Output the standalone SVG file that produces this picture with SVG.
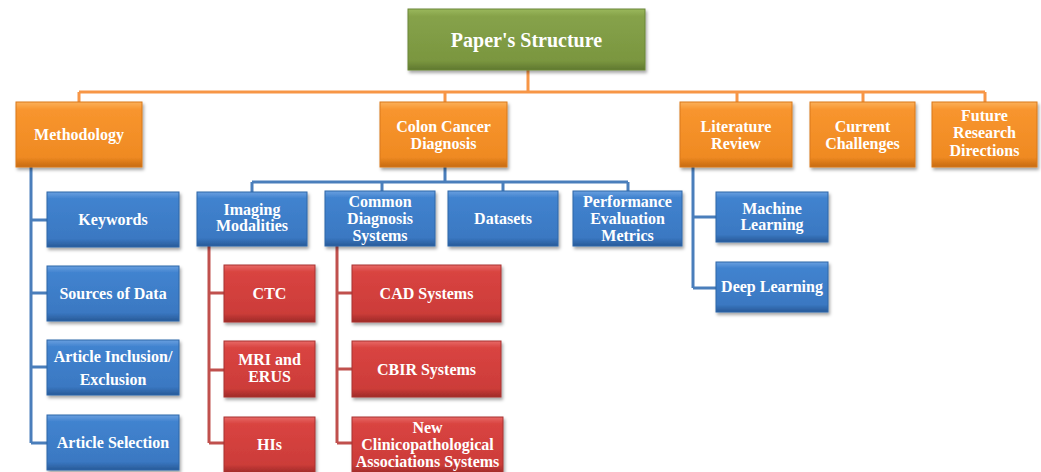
<svg xmlns="http://www.w3.org/2000/svg" width="1041" height="472" viewBox="0 0 1041 472">
<defs>
<linearGradient id="gG" x1="0" y1="0" x2="0" y2="1"><stop offset="0" stop-color="#9ab85c"/><stop offset="0.12" stop-color="#86a24a"/><stop offset="0.85" stop-color="#7a963f"/><stop offset="1" stop-color="#5f7830"/></linearGradient>
<linearGradient id="gO" x1="0" y1="0" x2="0" y2="1"><stop offset="0" stop-color="#fbb05a"/><stop offset="0.12" stop-color="#f8952e"/><stop offset="0.85" stop-color="#ef8a22"/><stop offset="1" stop-color="#c66a12"/></linearGradient>
<linearGradient id="gB" x1="0" y1="0" x2="0" y2="1"><stop offset="0" stop-color="#6aa0e0"/><stop offset="0.12" stop-color="#4183cf"/><stop offset="0.85" stop-color="#3a78c2"/><stop offset="1" stop-color="#285a98"/></linearGradient>
<linearGradient id="gR" x1="0" y1="0" x2="0" y2="1"><stop offset="0" stop-color="#e86a66"/><stop offset="0.12" stop-color="#d94441"/><stop offset="0.85" stop-color="#cc3c39"/><stop offset="1" stop-color="#9e2a28"/></linearGradient>
<filter id="sh" x="-10%" y="-10%" width="125%" height="135%"><feDropShadow dx="1.5" dy="2.5" stdDeviation="1.5" flood-color="#000" flood-opacity="0.35"/></filter>
</defs>
<style>
.n rect{filter:url(#sh)}
.g rect{fill:url(#gG);stroke:#6b8636;stroke-width:1}
.o rect{fill:url(#gO);stroke:#d9781c;stroke-width:1}
.b rect{fill:url(#gB);stroke:#2f66a8;stroke-width:1}
.r rect{fill:url(#gR);stroke:#a83330;stroke-width:1}
text{font-family:"Liberation Serif","Times New Roman",serif;font-weight:bold;fill:#fff;text-anchor:middle;font-size:16px}
.t{font-size:20px}
.lo{stroke:#f79646;stroke-width:3;fill:none}
.lb{stroke:#4a7ebb;stroke-width:3;fill:none}
.lr{stroke:#c0504d;stroke-width:3;fill:none}
</style>
<g id="connectors">
<path class="lo" d="M528 70V92M79 92H985M79 92V102M445 92V102M737 92V102M863 92V102M985 92V102"/>
<path class="lb" d="M445 167V182M252 182H628M252 182V192M382 182V192M503 182V192M628 182V192"/>
<path class="lb" d="M31 167V443M31 220H47M31 293H47M31 367H47M31 443H47"/>
<path class="lb" d="M693 167V288M693 217H716M693 288H716"/>
<path class="lr" d="M209 246V443M209 293H224M209 370H224M209 443H224"/>
<path class="lr" d="M337 246V443M337 293H352M337 369H352M337 443H352"/>
</g>
<g id="root" class="n g"><rect x="408" y="9" width="237" height="61"/><text class="t" x="526.5" y="46.5">Paper's Structure</text></g>
<g id="methodology" class="n o"><rect x="16" y="102" width="126" height="65"/><text x="79" y="140">Methodology</text></g>
<g id="colon" class="n o"><rect x="380" y="102" width="127" height="65"/><text x="443.5" y="132">Colon Cancer</text><text x="443.5" y="149">Diagnosis</text></g>
<g id="literature" class="n o"><rect x="680" y="102" width="112" height="65"/><text x="736" y="132">Literature</text><text x="736" y="149">Review</text></g>
<g id="challenges" class="n o"><rect x="810" y="102" width="105" height="65"/><text x="862.5" y="132">Current</text><text x="862.5" y="149">Challenges</text></g>
<g id="future" class="n o"><rect x="932" y="102" width="105" height="65"/><text x="984.5" y="121">Future</text><text x="984.5" y="138">Research</text><text x="984.5" y="156">Directions</text></g>
<g id="keywords" class="n b"><rect x="47" y="192" width="132" height="55"/><text x="113" y="225">Keywords</text></g>
<g id="sources" class="n b"><rect x="47" y="266" width="132" height="55"/><text x="113" y="299">Sources of Data</text></g>
<g id="inclusion" class="n b"><rect x="47" y="340" width="132" height="55"/><text x="113" y="362">Article Inclusion/</text><text x="113" y="385">Exclusion</text></g>
<g id="selection" class="n b"><rect x="47" y="415" width="132" height="55"/><text x="113" y="448">Article Selection</text></g>
<g id="imaging" class="n b"><rect x="197" y="192" width="110" height="54"/><text x="252" y="215">Imaging</text><text x="252" y="231">Modalities</text></g>
<g id="common" class="n b"><rect x="325" y="191" width="110" height="55"/><text x="380" y="207">Common</text><text x="380" y="224">Diagnosis</text><text x="380" y="241">Systems</text></g>
<g id="datasets" class="n b"><rect x="448" y="191" width="110" height="55"/><text x="503" y="224">Datasets</text></g>
<g id="performance" class="n b"><rect x="573" y="191" width="109" height="55"/><text x="627.5" y="207">Performance</text><text x="627.5" y="224">Evaluation</text><text x="627.5" y="241">Metrics</text></g>
<g id="ml" class="n b"><rect x="716" y="192" width="112" height="50"/><text x="772" y="214">Machine</text><text x="772" y="230">Learning</text></g>
<g id="dl" class="n b"><rect x="716" y="262" width="112" height="50"/><text x="772" y="292">Deep Learning</text></g>
<g id="ctc" class="n r"><rect x="224" y="265" width="91" height="57"/><text x="269.5" y="299">CTC</text></g>
<g id="mri" class="n r"><rect x="224" y="341" width="91" height="56"/><text x="269.5" y="365">MRI and</text><text x="269.5" y="382">ERUS</text></g>
<g id="his" class="n r"><rect x="224" y="417" width="91" height="56"/><text x="269.5" y="450">HIs</text></g>
<g id="cad" class="n r"><rect x="352" y="265" width="149" height="57"/><text x="426.5" y="299">CAD Systems</text></g>
<g id="cbir" class="n r"><rect x="352" y="341" width="149" height="56"/><text x="426.5" y="375">CBIR Systems</text></g>
<g id="clinico" class="n r"><rect x="352" y="417" width="151" height="56"/><text x="427.5" y="433">New</text><text x="427.5" y="450">Clinicopathological</text><text x="427.5" y="467">Associations Systems</text></g>
</svg>
